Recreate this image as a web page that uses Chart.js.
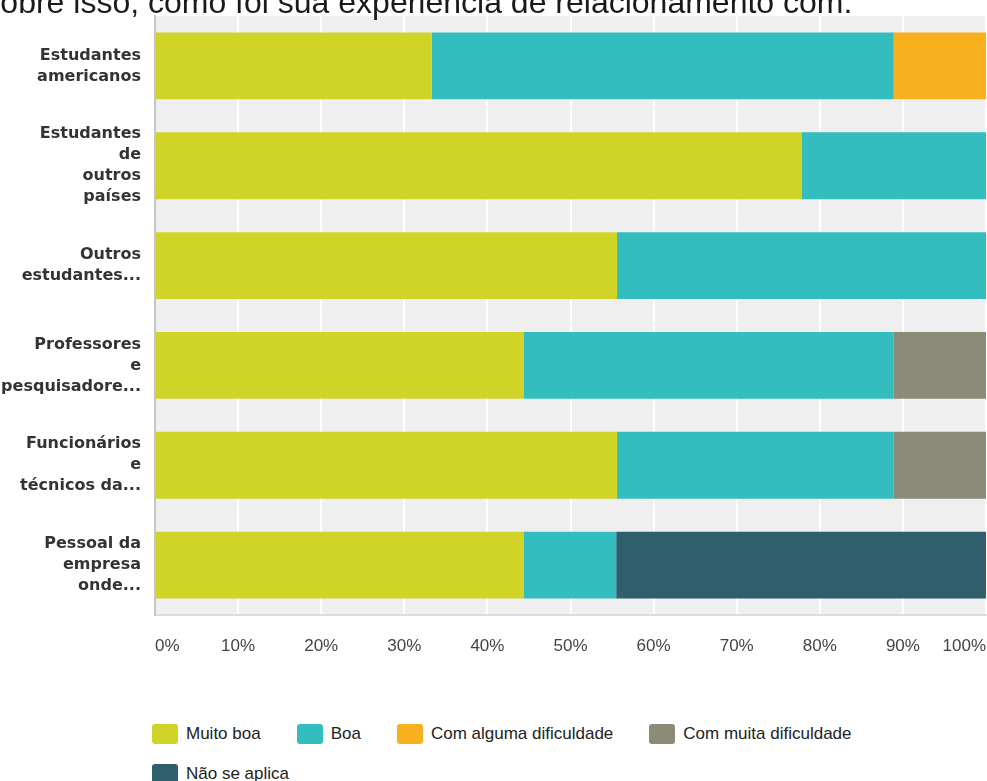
<!DOCTYPE html>
<html lang="pt">
<head>
<meta charset="utf-8">
<title>Experiência de relacionamento</title>
<script src="https://cdn.jsdelivr.net/npm/chart.js@4/dist/chart.umd.min.js"></script>
<style>
    html, body {
        margin: 0;
        padding: 0;
        background: #fff;
        overflow: hidden;
    }
    #wrap {
        position: relative;
        width: 987px;
        height: 781px;
        overflow: hidden;
    }
    #question {
        position: absolute;
        top: -14px;
        left: -21px;
        font: 32px/32px "Liberation Sans", Arial, sans-serif;
        color: #1a1a1a;
        white-space: nowrap;
        z-index: 2;
    }
    #chart {
        position: absolute;
        top: 0;
        left: 0;
    }
    #legend {
        position: absolute;
        top: 724px;
        left: 152px;
        width: 760px;
        display: flex;
        flex-wrap: wrap;
        row-gap: 20px;
        font: 17px "Liberation Sans", Arial, sans-serif;
        color: #222;
    }
    .legend-item {
        display: flex;
        align-items: center;
        height: 20px;
        margin-right: 36px;
    }
    .legend-box {
        width: 26px;
        height: 20px;
        border-radius: 3px;
        margin-right: 8px;
    }
</style>
</head>
<body>
<div id="wrap">
    <div id="question">Sobre isso, como foi sua experiência de relacionamento com:</div>
    <canvas id="chart" width="987" height="680"></canvas>
    <div id="legend"></div>
</div>
<script>
// Groups asked about (wrapped into lines the way the axis shows them)
const groups = [
    ['Estudantes', 'americanos'],
    ['Estudantes', 'de', 'outros', 'países'],
    ['Outros', 'estudantes...'],
    ['Professores', 'e', 'pesquisadore...'],
    ['Funcionários', 'e', 'técnicos da...'],
    ['Pessoal da', 'empresa', 'onde...']
];

// Share of answers per group, in percent
const muitoBoa    = [33.3, 77.8, 55.6, 44.4, 55.6, 44.4];
const boa         = [55.6, 22.2, 44.4, 44.5, 33.3, 11.1];
const comAlguma   = [11.1, 0, 0, 0, 0, 0];
const comMuita    = [0, 0, 0, 11.1, 11.1, 0];
const naoSeAplica = [0, 0, 0, 0, 0, 44.5];

const answerNames = ['Muito boa', 'Boa', 'Com alguma dificuldade', 'Com muita dificuldade', 'Não se aplica'];
const answerColors = ['#cfd426', '#33bdbf', '#f7b01e', '#8b8b78', '#2f5f6d'];
const percentTicks = [0, 10, 20, 30, 40, 50, 60, 70, 80, 90, 100];

const series = [muitoBoa, boa, comAlguma, comMuita, naoSeAplica];

// Light grey panel behind the bars
const plotBackground = {
    id: 'plotBackground',
    beforeDraw(chart) {
        const { ctx, chartArea: a } = chart;
        ctx.save();
        ctx.fillStyle = '#efefef';
        ctx.fillRect(a.left, a.top, a.right - a.left, a.bottom - a.top);
        ctx.restore();
    }
};

// Labels may hang over the plot edges, so don't let them shrink it
function noEdgePadding(axis) {
    axis.paddingTop = 0;
    axis.paddingBottom = 0;
    axis.paddingLeft = 0;
    axis.paddingRight = 0;
}

const ctx = document.getElementById('chart').getContext('2d');

new Chart(ctx, {
    type: 'bar',
    data: {
        labels: groups,
        datasets: series.map((values, i) => ({
            label: answerNames[i],
            data: values,
            backgroundColor: answerColors[i],
            borderWidth: 0,
            categoryPercentage: 1,
            barPercentage: 0.67
        }))
    },
    options: {
        indexAxis: 'y',
        responsive: false,
        animation: false,
        layout: {
            padding: { top: 16, right: 1, bottom: 22, left: 0 }
        },
        scales: {
            x: {
                stacked: true,
                min: 0,
                max: 100,
                afterBuildTicks: axis => {
                    axis.ticks = percentTicks.map(v => ({ value: v }));
                },
                afterFit: axis => {
                    noEdgePadding(axis);
                    axis.height = 43;
                },
                grid: {
                    color: '#ffffff',
                    lineWidth: 2,
                    drawTicks: false
                },
                border: { display: true, color: '#dcdcdc', width: 2 },
                ticks: {
                    align: 'inner',
                    padding: 21,
                    color: '#444',
                    font: { family: '"Liberation Sans", Arial, sans-serif', size: 17 },
                    callback: v => v + '%'
                }
            },
            y: {
                stacked: true,
                grid: { display: false, drawTicks: false },
                border: { display: true, color: '#c6c6c6', width: 2 },
                afterFit: axis => {
                    noEdgePadding(axis);
                    axis.width = 155;
                },
                ticks: {
                    padding: 14,
                    color: '#333',
                    font: {
                        family: '"DejaVu Sans", Verdana, sans-serif',
                        size: 16,
                        weight: 'bold',
                        lineHeight: 1.31
                    }
                }
            }
        },
        plugins: {
            legend: { display: false },
            tooltip: { enabled: false }
        }
    },
    plugins: [plotBackground]
});

// Legend under the chart
const legend = document.getElementById('legend');
answerNames.forEach((name, i) => {
    const item = document.createElement('div');
    item.className = 'legend-item';
    item.innerHTML = `<span class="legend-box" style="background:${answerColors[i]}"></span><span>${name}</span>`;
    legend.appendChild(item);
});
</script>
</body>
</html>
